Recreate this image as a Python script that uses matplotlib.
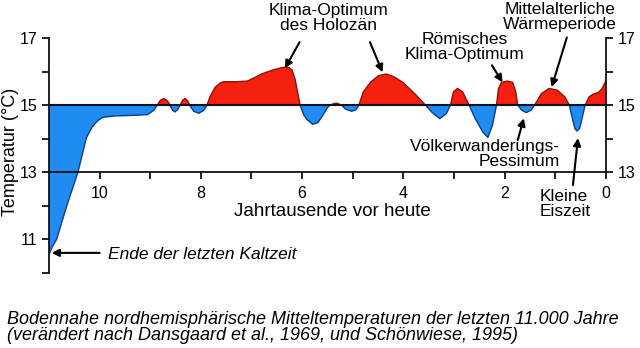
import numpy as np
import matplotlib.pyplot as plt

plt.rcParams['font.family'] = ['Liberation Sans', 'DejaVu Sans']

# Jahrtausende vor heute / Temperatur (°C)
kyr = [11.0, 10.93, 10.85, 10.65, 10.43, 10.26, 10.14, 10.03, 9.94, 9.7, 9.3, 9.05,
       8.93, 8.86, 8.8, 8.73, 8.66, 8.61, 8.56, 8.51, 8.46, 8.41, 8.36, 8.31, 8.26,
       8.22, 8.14, 8.04, 7.95, 7.88, 7.82, 7.72, 7.62, 7.55, 7.3, 7.08, 6.94, 6.82,
       6.58, 6.37, 6.26, 6.2, 6.14, 6.09, 6.04, 5.97, 5.91, 5.79, 5.69, 5.59, 5.49,
       5.45, 5.37, 5.31, 5.22, 5.14, 5.02, 4.94, 4.88, 4.79, 4.64, 4.49, 4.34, 4.19,
       4.01, 3.78, 3.56, 3.43, 3.28, 3.15, 3.07, 3.01, 2.93, 2.83, 2.7, 2.58, 2.43,
       2.33, 2.24, 2.16, 2.12, 2.06, 1.94, 1.84, 1.78, 1.74, 1.66, 1.57, 1.48, 1.41,
       1.27, 1.12, 0.96, 0.81, 0.72, 0.66, 0.61, 0.57, 0.52, 0.47, 0.41, 0.33, 0.25,
       0.15, 0.08, 0.0]
temp = [10.55, 10.8, 11.0, 12.0, 13.0, 14.04, 14.37, 14.55, 14.64, 14.68, 14.7, 14.72,
        14.85, 15.0, 15.15, 15.2, 15.13, 15.0, 14.85, 14.8, 14.87, 15.0, 15.15, 15.2, 15.13,
        15.0, 14.82, 14.76, 14.84, 15.0, 15.25, 15.53, 15.66, 15.7, 15.7, 15.72, 15.82, 15.92,
        16.05, 16.13, 16.12, 16.05, 15.78, 15.4, 15.0, 14.72, 14.58, 14.43, 14.48, 14.7, 14.95,
        15.0, 15.05, 15.06, 15.0, 14.88, 14.82, 14.86, 15.0, 15.4, 15.7, 15.88, 15.93, 15.85,
        15.68, 15.35, 15.0, 14.78, 14.6, 14.75, 15.0, 15.4, 15.5, 15.4, 15.0, 14.6, 14.2,
        14.04, 14.4, 15.0, 15.5, 15.68, 15.72, 15.68, 15.4, 15.0, 14.85, 14.78, 14.85, 15.0,
        15.35, 15.5, 15.45, 15.25, 15.0, 14.6, 14.3, 14.23, 14.3, 14.6, 15.0, 15.25, 15.33,
        15.38, 15.48, 15.72]

x_ticks = [10, 9, 8, 7, 6, 5, 4, 3, 2, 1, 0]
x_labels = ['10', '', '8', '', '6', '', '4', '', '2', '', '0']
y_ticks_left = [10, 11, 12, 13, 14, 15, 16, 17]
y_labels_left = ['', '11', '', '13', '', '15', '', '17']
y_ticks_right = [13, 14, 15, 16, 17]
y_labels_right = ['13', '', '15', '', '17']

base = 15
red = '#f5200f'
blue = '#1e8cf0'

fig = plt.figure(figsize=(6.4, 3.48), dpi=100)
ax = fig.add_axes([0.0766, 0.2155, 0.870, 0.675])

x = np.array(kyr)
y = np.array(temp)
ax.fill_between(x, y, base, where=y >= base, interpolate=True,
                facecolor=red, edgecolor='#8a1208', linewidth=1.0, zorder=2)
ax.fill_between(x, y, base, where=y <= base, interpolate=True,
                facecolor=blue, edgecolor='#0b3d8a', linewidth=1.0, zorder=2)
ax.axhline(base, color='#111122', linewidth=1.5, zorder=3)

ax.set_xlim(11.0, 0)
ax.set_ylim(10, 17)

# spines like the original drawing
ax.spines['top'].set_visible(False)
ax.spines['left'].set_bounds(10, 17)
ax.spines['right'].set_bounds(13, 17)
ax.spines['bottom'].set_position(('data', 13))
for s in ax.spines.values():
    s.set_linewidth(1.3)
    s.set_color('#111111')

ax.set_xticks(x_ticks)
ax.set_xticklabels(x_labels, fontsize=11.5)
ax.set_yticks(y_ticks_left)
ax.set_yticklabels(y_labels_left, fontsize=11.5)
ax.tick_params(axis='both', direction='out', length=5, width=1.3, color='#111111')
ax.tick_params(axis='x', pad=5)

ax2 = ax.twinx()
ax2.set_ylim(10, 17)
ax2.set_yticks(y_ticks_right)
ax2.set_yticklabels(y_labels_right, fontsize=11.5)
ax2.tick_params(axis='y', direction='out', length=5, width=1.3, color='#111111')
for name, s in ax2.spines.items():
    s.set_visible(False)

ax.text(5.4, 11.82, 'Jahrtausende vor heute', fontsize=13.5, ha='center', va='center')
fig.text(0.016, 0.565, 'Temperatur (°C)', fontsize=13, rotation=90, ha='center', va='center')

arrow = dict(arrowstyle='-|>', color='black', lw=1.5, mutation_scale=11, shrinkA=0, shrinkB=0)
label = dict(fontsize=12.5, va='center', linespacing=1.0, clip_on=False)

ax.text(5.47, 17.59, 'Klima-Optimum\ndes Holozän', ha='center', **label)
ax.annotate('', xy=(6.34, 16.1), xytext=(6.05, 16.88), arrowprops=arrow, annotation_clip=False)
ax.annotate('', xy=(4.41, 15.98), xytext=(4.66, 16.88), arrowprops=arrow, annotation_clip=False)

ax.text(2.79, 16.74, 'Römisches\nKlima-Optimum', ha='center', **label)
ax.annotate('', xy=(2.04, 15.68), xytext=(2.25, 16.19), arrowprops=arrow, annotation_clip=False)

ax.text(0.91, 17.63, 'Mittelalterliche\nWärmeperiode', ha='center', **label)
ax.annotate('', xy=(1.07, 15.54), xytext=(0.77, 17.02), arrowprops=arrow, annotation_clip=False)

ax.text(0.91, 13.54, 'Völkerwanderungs-\nPessimum', ha='right', multialignment='right', **label)
ax.annotate('', xy=(1.62, 14.61), xytext=(1.74, 13.96), arrowprops=arrow, annotation_clip=False)

ax.text(1.30, 12.05, 'Kleine\nEiszeit', ha='left', **label)
ax.annotate('', xy=(0.55, 14.02), xytext=(0.65, 12.62), arrowprops=arrow, annotation_clip=False)

ax.text(9.84, 10.56, 'Ende der letzten Kaltzeit', ha='left', style='italic', **label)
ax.annotate('', xy=(10.95, 10.6), xytext=(10.0, 10.6), arrowprops=arrow, annotation_clip=False)

fig.text(0.011, 0.058, 'Bodennahe nordhemisphärische Mitteltemperaturen der letzten 11.000 Jahre\n'
         '(verändert nach Dansgaard et al., 1969, und Schönwiese, 1995)',
         fontsize=13, style='italic', ha='left', va='center', linespacing=0.95)

fig.savefig('out.png', dpi=100)
